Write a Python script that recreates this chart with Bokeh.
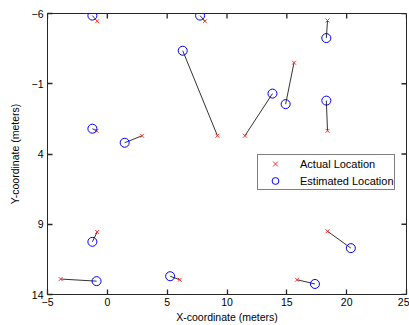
import math
from bokeh.plotting import figure
from bokeh.models import Range1d, FixedTicker, Legend, LegendItem, ColumnDataSource
from bokeh.embed import file_html
from bokeh.resources import INLINE

actual_x = [-0.85, 8.15, 9.2, -0.9, 2.9, 18.4, 11.5, 15.6, 18.4, -0.85, -3.9, 6.05, 18.4, 15.85]
actual_y = [-5.45, -5.45, 2.7, 2.35, 2.7, -5.5, 2.7, -2.5, 2.35, 9.55, 12.9, 12.95, 9.5, 12.95]
est_x = [-1.25, 7.75, 6.3, -1.25, 1.45, 18.3, 13.8, 14.9, 18.3, -1.25, -0.9, 5.25, 20.35, 17.35]
est_y = [-5.85, -5.85, -3.35, 2.2, 3.2, -4.25, -0.3, 0.45, 0.2, 10.25, 13.05, 12.7, 10.7, 13.25]
x_ticks = [-5, 0, 5, 10, 15, 20, 25]
y_ticks = [-6, -1, 4, 9, 14]
x_min, x_max = -5, 25
y_min, y_max = -6, 14

src = ColumnDataSource(dict(ax=actual_x, ay=actual_y, ex=est_x, ey=est_y))

FONT = "Liberation Sans"
AX = "#262626"

p = figure(width=409, height=325, output_backend="svg", toolbar_location=None,
           x_range=Range1d(x_min, x_max), y_range=Range1d(y_max, y_min),
           min_border_left=47, min_border_right=3, min_border_top=13, min_border_bottom=30)
p.background_fill_color = "white"
p.border_fill_color = "white"
p.outline_line_color = AX
p.xgrid.visible = False
p.ygrid.visible = False

# inward ticks on the top and right edges of the box
p.ray(x=x_ticks, y=[y_min] * len(x_ticks), length=5, length_units="screen",
      angle=-math.pi / 2, line_color=AX, line_width=1.3)
p.ray(x=[x_max] * len(y_ticks), y=y_ticks, length=5, length_units="screen",
      angle=math.pi, line_color=AX, line_width=1.3)

p.segment(x0="ex", y0="ey", x1="ax", y1="ay", source=src, line_color="black", line_width=0.8)
r_act = p.scatter(x="ax", y="ay", source=src, marker="x", size=5.5, line_color="#ff3030", line_width=1)
r_est = p.scatter(x="ex", y="ey", source=src, marker="circle", size=9, fill_color=None,
                  line_color="#0000ff", line_width=1)

for ax in (p.xaxis[0], p.yaxis[0]):
    ax.major_label_text_font = FONT
    ax.major_label_text_font_size = "10.5px"
    ax.major_label_text_color = "black"
    ax.axis_label_text_font = FONT
    ax.axis_label_text_font_size = "10.5px"
    ax.axis_label_text_font_style = "normal"
    ax.axis_label_text_color = "black"
    ax.major_tick_in = 5
    ax.major_tick_out = 0
    ax.major_tick_line_width = 1.3
    ax.minor_tick_line_color = None
    ax.axis_line_color = AX
    ax.major_tick_line_color = AX
p.xaxis[0].ticker = FixedTicker(ticks=x_ticks)
p.yaxis[0].ticker = FixedTicker(ticks=y_ticks)
p.xaxis[0].axis_label = "X-coordinate (meters)"
p.yaxis[0].axis_label = "Y-coordinate (meters)"
p.xaxis[0].major_label_standoff = 3
p.yaxis[0].major_label_standoff = 4
p.xaxis[0].axis_label_standoff = 2
p.yaxis[0].axis_label_standoff = 8

legend = Legend(items=[LegendItem(label="Actual Location", renderers=[r_act]),
                       LegendItem(label="Estimated Location", renderers=[r_est])],
                location=(210, 104), border_line_color="black", border_line_width=1,
                label_text_font=FONT, label_text_font_size="11px", label_text_color="black",
                glyph_height=17, glyph_width=34, label_height=14, spacing=0, padding=0,
                margin=0, label_standoff=8, background_fill_alpha=1)
p.add_layout(legend, "center")

open("out.html", "w").write(file_html(p, INLINE))
